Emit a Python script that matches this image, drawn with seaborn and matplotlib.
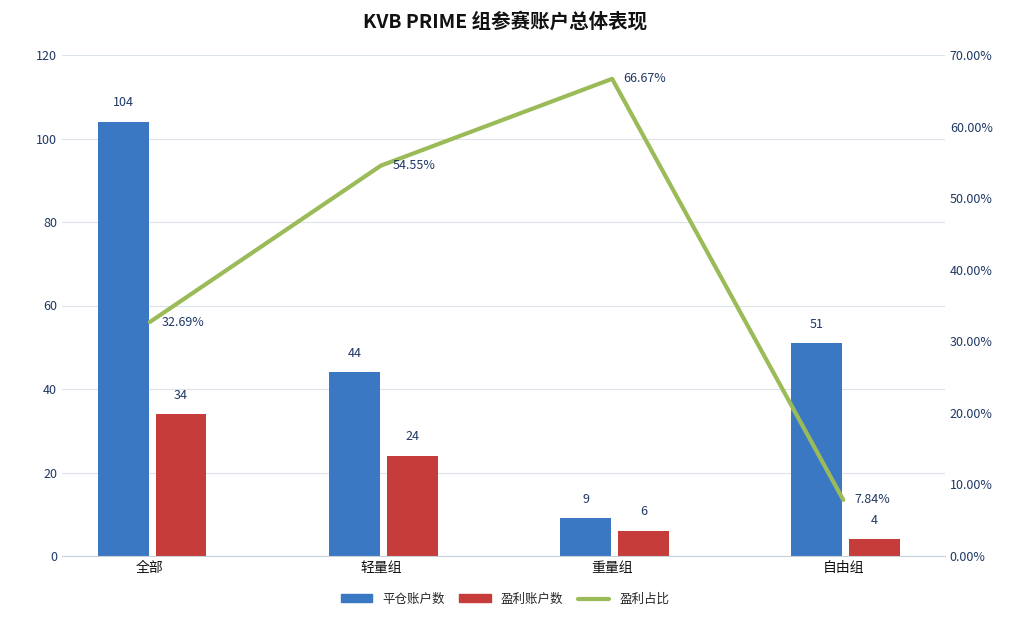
import pandas as pd
import numpy as np
import seaborn as sns
import matplotlib.pyplot as plt

sns.set_style('white')
plt.rcParams['font.family'] = ['Noto Sans CJK SC', 'DejaVu Sans']

categories = ['全部', '轻量组', '重量组', '自由组']
closed_accounts = [104, 44, 9, 51]
profit_accounts = [34, 24, 6, 4]
profit_ratio = [32.69, 54.55, 66.67, 7.84]

df = pd.DataFrame({
    'cat': categories * 2,
    'val': closed_accounts + profit_accounts,
    'series': ['平仓账户数'] * 4 + ['盈利账户数'] * 4,
})

fig = plt.figure(figsize=(10.1, 6.19), dpi=100)
ax = fig.add_axes([62/1010, 63/619, 883/1010, 501/619])
sns.barplot(data=df, x='cat', y='val', hue='series', width=0.5, saturation=1,
            palette=['#3a78c3', '#c53c3a'], ax=ax, legend=False)
for p in ax.patches:
    w = p.get_width()
    p.set_x(p.get_x() + 0.025)
    p.set_width(w - 0.03)
    p.set_edgecolor('none')
    h = p.get_height()
    if h > 0:
        ax.text(p.get_x() + p.get_width()/2, h + 3, f'{int(h)}', ha='center',
                va='bottom', fontsize=9, color='#1f3864')

ax.set_ylim(0, 120)
ax.set_yticks(range(0, 121, 20))
ax.set_xlim(-0.38, 3.44)
ax.set_xlabel('')
ax.set_ylabel('')
ax.yaxis.grid(True, color='#dde3ea', lw=0.8)
ax.set_axisbelow(True)
for s in ['top', 'right', 'left']:
    ax.spines[s].set_visible(False)
ax.spines['bottom'].set_color('#c8d0da')
ax.tick_params(axis='y', colors='#1f3864', labelsize=9, length=0)
ax.tick_params(axis='x', labelsize=10, length=0, colors='#111111')

ax2 = ax.twinx()
ax2.plot(range(4), profit_ratio, color='#9bbb59', lw=3)
for i, v in enumerate(profit_ratio):
    ax2.text(i + 0.05, v, f'{v:.2f}%', fontsize=9, color='#1f3864', va='center')
ax2.set_ylim(0, 70)
ax2.set_yticks(range(0, 71, 10))
ax2.set_yticklabels([f'{t:.2f}%' for t in range(0, 71, 10)])
ax2.tick_params(axis='y', colors='#1f3864', labelsize=9, length=0)
for s in ax2.spines.values():
    s.set_visible(False)

fig.text(0.5, 0.965, 'KVB PRIME 组参赛账户总体表现', ha='center', va='center',
         fontsize=14, fontweight='bold', color='#111111')

handles = [plt.Rectangle((0, 0), 1, 1, color='#3a78c3'),
           plt.Rectangle((0, 0), 1, 1, color='#c53c3a'),
           plt.Line2D([0], [0], color='#9bbb59', lw=3)]
fig.legend(handles, ['平仓账户数', '盈利账户数', '盈利占比'], loc='center',
           bbox_to_anchor=(0.5, 0.032), ncol=3, frameon=False, fontsize=9,
           handlelength=2.5, handleheight=0.6, columnspacing=1.2)

fig.savefig('out.png', dpi=100)
